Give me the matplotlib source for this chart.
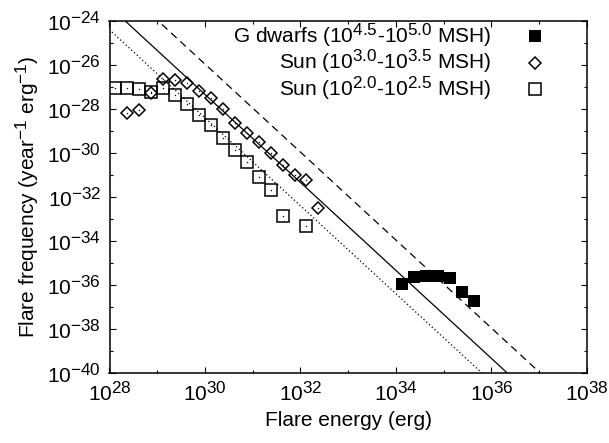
import numpy as np
import matplotlib
matplotlib.use("Agg")
import matplotlib.pyplot as plt
import matplotlib._mathtext as _mt
from matplotlib.ticker import FixedLocator, NullFormatter, FuncFormatter
from matplotlib.lines import Line2D

_mt.SHRINK_FACTOR = 0.82

plt.rcParams['font.family'] = ['Liberation Sans', 'DejaVu Sans']
plt.rcParams['mathtext.fontset'] = 'custom'
plt.rcParams['mathtext.rm'] = 'Liberation Sans'
plt.rcParams['mathtext.it'] = 'Liberation Sans:italic'
plt.rcParams['mathtext.bf'] = 'Liberation Sans:bold'
plt.rcParams['mathtext.default'] = 'regular'

# ---- data (log10 values) ----
sun_lo_logE = [28.125, 28.375, 28.625, 28.875, 29.125, 29.375, 29.625, 29.875,
               30.125, 30.375, 30.625, 30.875, 31.125, 31.375, 31.625, 32.125]
sun_lo_logF = [-27.06, -27.06, -27.10, -27.21, -27.06, -27.36, -27.79, -28.27,
               -28.73, -29.30, -29.86, -30.40, -31.08, -31.68, -32.86, -33.32]

sun_hi_logE = [28.375, 28.625, 28.875, 29.125, 29.375, 29.625, 29.875, 30.125,
               30.375, 30.625, 30.875, 31.125, 31.375, 31.625, 31.875, 32.125, 32.375]
sun_hi_logF = [-28.20, -28.05, -27.26, -26.64, -26.68, -26.83, -27.17, -27.51,
               -28.01, -28.62, -29.08, -29.50, -30.01, -30.56, -31.02, -31.23, -32.51]

gdw_logE = [34.125, 34.375, 34.625, 34.875, 35.125, 35.375, 35.625]
gdw_logF = [-35.94, -35.62, -35.60, -35.60, -35.67, -36.30, -36.71]

# power-law reference lines: log F = intercept - 2 log E
line_slope = -2.0
line_intercepts = {'dotted': 31.60, 'solid': 32.66, 'dashed': 34.04}
line_logE = [27.0, 39.0]

labels = [r'G dwarfs (10$^{4.5}$-10$^{5.0}$ MSH)',
          r'Sun (10$^{3.0}$-10$^{3.5}$ MSH)',
          r'Sun (10$^{2.0}$-10$^{2.5}$ MSH)']

xticks_major = [28, 30, 32, 34, 36, 38]
yticks_major = [-40, -38, -36, -34, -32, -30, -28, -26, -24]

# ---- figure ----
fig = plt.figure(figsize=(6.09, 4.43), dpi=100)
ax = fig.add_axes([109.5/609, 1-373/443, (587-109.5)/609, (373-21)/443])

le = np.array(line_logE)
styles = {'dotted': (0, (1, 2)), 'solid': '-', 'dashed': (0, (6, 4))}
for name, b in line_intercepts.items():
    ax.plot(10**le, 10**(b + line_slope*le), color='black', lw=0.9,
            linestyle=styles[name])

E = lambda a: 10**np.array(a)

h1, = ax.plot(E(gdw_logE), E(gdw_logF), 's', color='black', ms=8.6,
              mec='black', mew=0, linestyle='none')
h2, = ax.plot(E(sun_hi_logE), E(sun_hi_logF), 'D', mfc='none', mec='black',
              ms=6.6, mew=1.1, linestyle='none')
ax.plot(E(sun_hi_logE), E(sun_hi_logF), 'o', color='black', ms=1.0, mew=0,
        linestyle='none')
h3, = ax.plot(E(sun_lo_logE), E(sun_lo_logF), 's', mfc='none', mec='black',
              ms=8.2, mew=1.1, linestyle='none')
ax.plot(E(sun_lo_logE), E(sun_lo_logF), 'o', color='black', ms=1.0, mew=0,
        linestyle='none')

ax.set_xscale('log')
ax.set_yscale('log')
ax.set_xlim(1e28, 1e38)
ax.set_ylim(1e-40, 1e-24)

ax.xaxis.set_major_locator(FixedLocator([10.0**k for k in xticks_major]))
ax.xaxis.set_minor_locator(FixedLocator([10.0**k for k in range(28, 39)]))
ax.yaxis.set_major_locator(FixedLocator([10.0**k for k in yticks_major]))
ax.yaxis.set_minor_locator(FixedLocator([10.0**k for k in range(-40, -23)]))
ax.xaxis.set_major_formatter(FuncFormatter(
    lambda v, p: '10$^{%d}$' % int(round(np.log10(v)))))
ax.yaxis.set_major_formatter(FuncFormatter(
    lambda v, p: '10$^{-%d}$' % abs(int(round(np.log10(v))))))
ax.xaxis.set_minor_formatter(NullFormatter())
ax.yaxis.set_minor_formatter(NullFormatter())
ax.tick_params(which='both', direction='in', top=True, right=True,
               labelsize=15, width=0.8)
ax.tick_params(which='major', length=4.5, pad=6)
ax.tick_params(which='minor', length=2.5)
for s in ax.spines.values():
    s.set_linewidth(1.1)

ax.set_xlabel('Flare energy (erg)', fontsize=15, labelpad=4)
ax.set_ylabel(r'Flare frequency (year$^{-1}$ erg$^{-1}$)', fontsize=15, labelpad=4)

# legend with markers on the right
lh2 = Line2D([], [], marker='D', mfc='none', mec='black', ms=6.6, mew=1.1, ls='none')
lh3 = Line2D([], [], marker='s', mfc='none', mec='black', ms=8.2, mew=1.1, ls='none')
ax.legend([h1, lh2, lh3], labels, loc='upper right', markerfirst=False,
          frameon=False, fontsize=15, bbox_to_anchor=(0.930, 1.022),
          handlelength=1.0, handletextpad=1.58, labelspacing=-0.08,
          borderaxespad=0.0)

fig.savefig('out.png', dpi=100)
